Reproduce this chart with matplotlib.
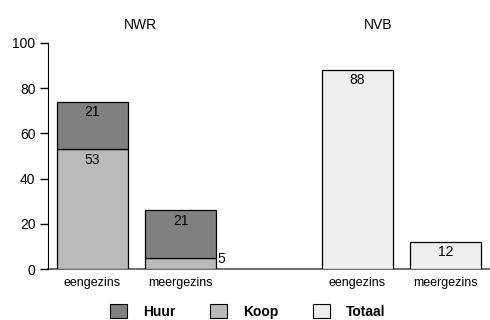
import matplotlib.pyplot as plt
from matplotlib.patches import Patch

plt.rcParams['font.family'] = ['Liberation Sans', 'DejaVu Sans']

categories = ["eengezins", "meergezins", "eengezins", "meergezins"]
groups = ["NWR", "NVB"]
koop = [53, 5]
huur = [21, 21]
totaal = [88, 12]

c_huur = '#808080'
c_koop = '#bababa'
c_tot = '#efefef'

fig = plt.figure(figsize=(4.9, 3.2), dpi=100)
ax = fig.add_axes([0.098, 0.159, 0.902, 0.707])

x_nwr = [0, 1]
x_nvb = [3, 4]
w = 0.8

ax.bar(x_nwr, koop, width=w, color=c_koop, edgecolor='black', linewidth=0.9)
ax.bar(x_nwr, huur, width=w, bottom=koop, color=c_huur, edgecolor='black', linewidth=0.9)
ax.bar(x_nvb, totaal, width=w, color=c_tot, edgecolor='black', linewidth=0.9)

# value labels
for x, k, h in zip(x_nwr, koop, huur):
    ax.text(x, k + h - 1.5, str(h), ha='center', va='top', fontsize=10)
    if k > 10:
        ax.text(x, k - 1.5, str(k), ha='center', va='top', fontsize=10)
    else:
        ax.text(x + w / 2 + 0.02, k - 0.5, str(k), ha='left', va='center', fontsize=10)
for x, t in zip(x_nvb, totaal):
    ax.text(x, t - 1.5, str(t), ha='center', va='top', fontsize=10)

ax.text(0.54, 108, groups[0], ha='center', va='center', fontsize=10)
ax.text(3.23, 108, groups[1], ha='center', va='center', fontsize=10)

ax.set_xlim(-0.5, 4.5)
ax.set_ylim(0, 100)
ax.set_yticks([0, 20, 40, 60, 80, 100])
ax.set_xticks(x_nwr + x_nvb)
ax.set_xticklabels(categories, fontsize=9)
ax.tick_params(axis='y', labelsize=10, length=6, width=1, pad=3)
ax.tick_params(axis='x', length=0, pad=6)
ax.spines['top'].set_visible(False)
ax.spines['right'].set_visible(False)
ax.spines['bottom'].set_color('#555555')
ax.spines['bottom'].set_linewidth(1.2)
ax.spines['bottom'].set_zorder(0)

handles = [Patch(facecolor=c_huur, edgecolor='black', linewidth=0.8, label='Huur'),
           Patch(facecolor=c_koop, edgecolor='black', linewidth=0.8, label='Koop'),
           Patch(facecolor=c_tot, edgecolor='black', linewidth=0.8, label='Totaal')]
leg = fig.legend(handles=handles, loc='center', bbox_to_anchor=(0.505, 0.028), ncol=3,
                 frameon=False, prop={'weight': 'bold', 'size': 10},
                 handlelength=1.22, handleheight=1.25, handletextpad=1.15, columnspacing=2.5)

fig.savefig('out.png', dpi=100)
